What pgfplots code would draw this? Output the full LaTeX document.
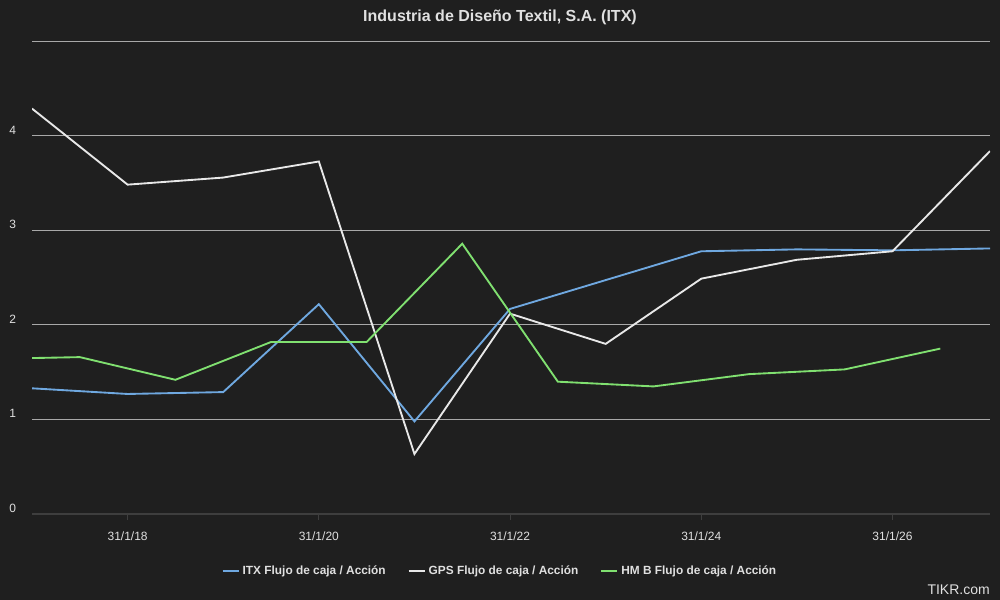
\documentclass[border=0pt]{standalone}
\usepackage{pgfplots}
\pgfplotsset{compat=1.18}
\usepackage{fontspec}
\setmainfont{Liberation Sans}
\definecolor{bgc}{HTML}{1F1F1F}
\definecolor{gridc}{HTML}{A8A8A8}
\definecolor{axc}{HTML}{3E3E3E}
\definecolor{itxc}{HTML}{6FA8E0}
\definecolor{gpsc}{HTML}{E8E8E8}
\definecolor{hmc}{HTML}{80E070}
\definecolor{txtc}{HTML}{E0E0E0}
\begin{document}
\begin{tikzpicture}
\fill[bgc] (0,0) rectangle (750pt,450pt);
\useasboundingbox (0,0) rectangle (750pt,450pt);
\node[text=txtc, font=\bfseries\fontsize{12}{14}\selectfont] at (375pt,437pt) {Industria de Diseño Textil, S.A. (ITX)};
\node[text=txtc, font=\fontsize{10.5}{12}\selectfont, anchor=east, inner sep=0pt] at (742.5pt,7.5pt) {TIKR.com};
\begin{axis}[
  at={(24pt,64.5pt)}, anchor=south west,
  scale only axis, width=718.5pt, height=354.4pt,
  xmin=-1, xmax=9.02, ymin=0, ymax=5,
  axis line style={draw=none},
  ytick={1,2,3,4,5}, yticklabels={1,2,3,4,{}},
  extra y ticks={0}, extra y tick labels={0},
  extra y tick style={grid style={axc, line width=0.9pt}},
  ymajorgrids, grid style={gridc, line width=0.75pt},
  ytick style={draw=none},
  yticklabel style={anchor=center, xshift=-10pt, yshift=4.5pt},
  xtick={0,2,4,6,8}, xtick pos=bottom,
  xticklabels={31/1/18,31/1/20,31/1/22,31/1/24,31/1/26},
  tick align=outside, major tick length=4.5pt,
  x tick style={axc, line width=0.75pt},
  xticklabel style={yshift=-5pt},
  ticklabel style={text=txtc, font=\fontsize{9}{11}\selectfont},
  /pgf/number format/assume math mode=true,
  legend columns=3,
  legend style={at={(0.4885,-0.1206)}, anchor=center, draw=none, fill=none,
    text=txtc, font=\bfseries\fontsize{8.9}{10}\selectfont,
    /tikz/every even column/.append style={column sep=14pt}},
  legend image code/.code={\draw[line width=2.2pt] (0pt,0pt) -- (12pt,0pt);},
]
\addplot[draw=itxc, line width=1.4pt] coordinates {
(-1,1.33) (0,1.27) (1,1.29) (2,2.22) (3,0.98) (4,2.17) (6,2.78) (7,2.80) (8,2.79) (9.02,2.81)};
\addlegendentry{ITX Flujo de caja / Acción}
\addplot[draw=gpsc, line width=1.4pt] coordinates {
(-1,4.29) (0,3.485) (1,3.56) (2,3.73) (3,0.635) (4,2.12) (5,1.80) (6,2.49) (7,2.69) (8,2.78) (9.02,3.84)};
\addlegendentry{GPS Flujo de caja / Acción}
\addplot[draw=hmc, line width=1.4pt] coordinates {
(-1,1.65) (-0.5,1.66) (0.5,1.42) (1.5,1.82) (2.5,1.82) (3.5,2.86) (4.5,1.40) (5.5,1.35) (6.5,1.48) (7.5,1.53) (8.5,1.75)};
\addlegendentry{HM B Flujo de caja / Acción}
\end{axis}
\end{tikzpicture}
\end{document}
